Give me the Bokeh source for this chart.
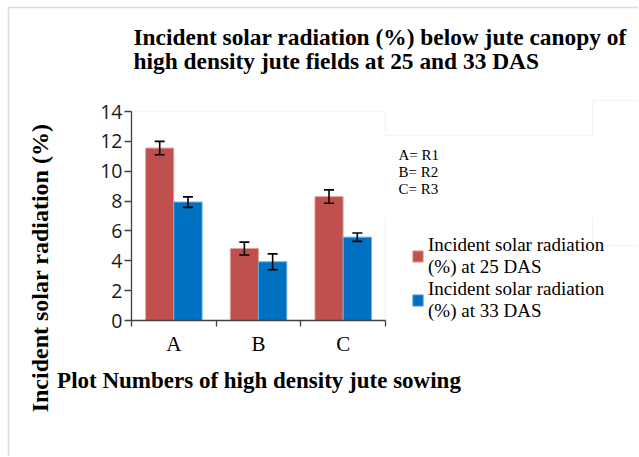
import numpy as np
from bokeh.plotting import figure
from bokeh.models import (Range1d, FixedTicker, Whisker, ColumnDataSource, Label,
                          Legend, LegendItem, BoxAnnotation, TeeHead)
from bokeh.transform import dodge
from bokeh.embed import file_html
from bokeh.resources import INLINE

# ---------------- data ----------------
categories = ["A", "B", "C"]
codes = ["R1", "R2", "R3"]
rad_25das = [11.55, 4.82, 8.30]
err_25das = [0.45, 0.43, 0.45]
rad_33das = [7.93, 3.93, 5.58]
err_33das = [0.35, 0.53, 0.28]
y_ticks = [0, 2, 4, 6, 8, 10, 12, 14]
series_names = ["Incident solar radiation\n(%) at 25 DAS",
                "Incident solar radiation\n(%) at 33 DAS"]
title_lines = ["Incident solar radiation (%) below jute canopy of",
               "high density jute fields at 25 and 33 DAS"]
x_title = "Plot Numbers of high density jute sowing"
y_title = "Incident solar radiation (%)"

RED = "#C0504D"
BLUE = "#0070C0"
AXIS = "#404040"
SERIF = "Liberation Serif"

n = len(categories)
ymax = 14
centers = (np.arange(n) + 0.5).tolist()

# ---------------- layout (canvas pixels) ----------------
W, H = 638, 456
PL, PR, PT, PB = 131, 385, 111, 320      # plot-area edges on the canvas
xs = (PR - PL) / n
ys = (PB - PT) / ymax
x_range = Range1d(-PL / xs, n + (W - PR) / xs)
y_range = Range1d(-(H - PB) / ys, ymax + PT / ys)


def up(py):  # canvas y (down) -> screen units (up from bottom)
    return H - py


def base(py, size):  # compensate Bokeh's alphabetic baseline placement
    return up(py - 0.33 * size)


p = figure(width=W, height=H, x_range=x_range, y_range=y_range,
           output_backend="svg", toolbar_location=None, min_border=0)
p.title.visible = False
p.xgrid.visible = False
p.ygrid.visible = False
p.outline_line_color = None
p.background_fill_color = "white"

# outer screenshot border and plot-area outline
p.add_layout(BoxAnnotation(left=8, right=W + 50, top=up(7), bottom=-50,
                           left_units="screen", right_units="screen", top_units="screen",
                           bottom_units="screen", fill_alpha=0, line_color="#8c8c8c",
                           line_width=1.5, level="underlay"))
p.add_layout(BoxAnnotation(left=0, right=n, bottom=0, top=ymax, fill_alpha=0,
                           line_color="#d9d9d9", line_width=1.5, level="underlay"))

series = [(rad_25das, err_25das, RED, "#e3a5a3", -0.167),
          (rad_33das, err_33das, BLUE, "#66a9d9", 0.167)]
renderers = []
sources = []
for vals, errs, col, lcol, off in series:
    src = ColumnDataSource(dict(x=centers, top=vals,
                                lower=[v - e for v, e in zip(vals, errs)],
                                upper=[v + e for v, e in zip(vals, errs)]))
    r = p.vbar(x=dodge("x", off, range=p.x_range), top="top", width=0.333, source=src,
               fill_color=col, line_color=lcol, line_width=1)
    renderers.append(r)
    sources.append((src, off))

for src, off in sources:
    w = Whisker(base=dodge("x", off, range=p.x_range), upper="upper", lower="lower", source=src,
                line_color="black", line_width=1.6, level="annotation",
                upper_head=TeeHead(size=10, line_color="black", line_width=1.6),
                lower_head=TeeHead(size=10, line_color="black", line_width=1.6))
    p.add_layout(w)

# axes (through the origin of the plot area)
xa = p.xaxis[0]
xa.fixed_location = 0
xa.bounds = (0, n)
xa.ticker = FixedTicker(ticks=centers, minor_ticks=list(range(n + 1)))
xa.major_label_overrides = {c: cat for c, cat in zip(centers, categories)}
xa.major_tick_line_color = None
xa.major_tick_out = 6
xa.major_tick_in = 0
xa.minor_tick_line_color = AXIS
xa.minor_tick_line_width = 1.3
xa.minor_tick_out = 6
xa.minor_tick_in = 0
xa.axis_line_color = AXIS
xa.axis_line_width = 1.3
xa.major_label_text_font = SERIF
xa.major_label_text_font_size = "21px"
xa.major_label_text_color = "black"
xa.major_label_standoff = 5

ya = p.yaxis[0]
ya.fixed_location = 0
ya.bounds = (0, ymax)
ya.ticker = FixedTicker(ticks=y_ticks, minor_ticks=[])
ya.major_tick_out = 7
ya.major_tick_in = 0
ya.major_tick_line_color = AXIS
ya.major_tick_line_width = 1.3
ya.axis_line_color = AXIS
ya.axis_line_width = 1.3
ya.major_label_text_font = "Open Sans"
ya.major_label_text_font_size = "19.5px"
ya.major_label_text_color = "#1a1a1a"
ya.major_label_standoff = 2

# legend
legend = Legend(items=[LegendItem(label=series_names[i], renderers=[renderers[i]]) for i in range(2)],
                location=(411, up(322)), orientation="vertical", glyph_width=13, glyph_height=14,
                label_standoff=4, padding=0, margin=0, spacing=0, border_line_color=None,
                background_fill_alpha=0, label_text_font=SERIF, label_text_font_size="19px",
                label_text_color="black", level="underlay")
p.add_layout(legend, "center")

# text-box overlays seen in the screenshot
p.add_layout(BoxAnnotation(left=592, right=W + 50, top=up(100), bottom=up(245),
                           left_units="screen", right_units="screen", top_units="screen",
                           bottom_units="screen", fill_color="white", fill_alpha=1,
                           line_color="#d9d9d9", line_width=1.5, level="overlay"))
p.add_layout(BoxAnnotation(left=383, right=594, top=up(135), bottom=up(217),
                           left_units="screen", right_units="screen", top_units="screen",
                           bottom_units="screen", fill_color="white", fill_alpha=1,
                           line_color=None, level="overlay"))
p.add_layout(BoxAnnotation(left=385, right=592, top=up(135), bottom=up(135),
                           left_units="screen", right_units="screen", top_units="screen",
                           bottom_units="screen", fill_alpha=0,
                           line_color="#d9d9d9", line_width=1.5, level="overlay"))

# texts
TS = 23.4
for i, line in enumerate(title_lines):
    p.add_layout(Label(x=133, y=base(44 + 24.5 * i, TS), x_units="screen", y_units="screen",
                       text=line, text_font=SERIF, text_font_size=f"{TS}px",
                       text_font_style="bold", text_color="black", text_align="left",
                       text_baseline="alphabetic"))

p.add_layout(Label(x=258.5, y=base(387.3, 23), x_units="screen", y_units="screen", text=x_title,
                   text_font=SERIF, text_font_size="23px", text_font_style="bold",
                   text_color="black", text_align="center", text_baseline="alphabetic"))
p.add_layout(Label(x=39, y=up(267.5), x_units="screen", y_units="screen", text=y_title,
                   angle=np.pi / 2, text_font=SERIF, text_font_size="24px",
                   text_font_style="bold", text_color="black", text_align="center",
                   text_baseline="middle"))

for i, (cat, code) in enumerate(zip(categories, codes)):
    p.add_layout(Label(x=398, y=base(159 + 17 * i, 15), x_units="screen", y_units="screen",
                       text=f"{cat}= {code}", text_font=SERIF, text_font_size="15px",
                       text_color="black", text_align="left", text_baseline="alphabetic",
                       level="overlay"))

open("out.html", "w").write(file_html(p, INLINE))
